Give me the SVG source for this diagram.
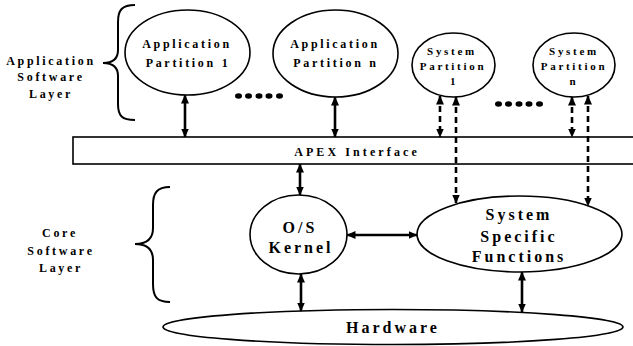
<svg xmlns="http://www.w3.org/2000/svg" width="633" height="346" viewBox="0 0 633 346">
<style>
  .shape { fill: #ffffff; stroke: #000000; stroke-width: 1.6; }
  .t { font-family: "Liberation Serif", "Times New Roman", serif; font-weight: bold; fill: #000000; text-anchor: middle; }
  .s11 { font-size: 11px; letter-spacing: 2.7px; }
  .s12 { font-size: 12px; letter-spacing: 2.7px; }
  .apx { font-size: 12px; letter-spacing: 3.1px; }
  .s16 { font-size: 16px; letter-spacing: 3px; }
  .conn { fill: none; stroke: #000000; stroke-width: 2.6; marker-start: url(#ah); marker-end: url(#ah); }
  .dash { stroke-dasharray: 6 4; }
  .brace { fill: none; stroke: #000000; stroke-width: 2; }
  .dot { fill: #000000; }
</style>
<defs>
  <marker id="ah" markerUnits="userSpaceOnUse" viewBox="0 0 9 8" refX="8.5" refY="4" markerWidth="9" markerHeight="8" orient="auto-start-reverse">
    <path d="M0,0 L9,4 L0,8 z" fill="#000000"/>
  </marker>
</defs>
<rect width="633" height="346" fill="#ffffff"/>

<g id="app-layer-label">
  <path class="brace" d="M135,5 C122,5 118,10 118,22 L118,50 C118,58 113,63 103,63 C113,63 118,68 118,76 L118,104 C118,116 122,120 135,120"/>
  <text class="t s12" x="51" y="65">Application</text>
  <text class="t s12" x="51" y="81">Software</text>
  <text class="t s12" x="51" y="98">Layer</text>
</g>

<g id="core-layer-label">
  <path class="brace" d="M170,187 C157,187 153,193 153,205 L153,228 C153,238 147,244 135,244 C147,244 153,250 153,260 L153,284 C153,297 157,302 170,302"/>
  <text class="t s12" x="60" y="237">Core</text>
  <text class="t s12" x="61" y="255">Software</text>
  <text class="t s12" x="61" y="272">Layer</text>
</g>

<g id="app-partition-1">
  <ellipse class="shape" cx="187.5" cy="52.5" rx="62.5" ry="42.5"/>
  <text class="t s12" x="187" y="48">Application</text>
  <text class="t s12" x="188" y="67">Partition 1</text>
</g>

<g id="app-partition-n">
  <ellipse class="shape" cx="335.5" cy="53.5" rx="62.5" ry="43.5"/>
  <text class="t s12" x="335" y="48">Application</text>
  <text class="t s12" x="336" y="67">Partition n</text>
</g>

<g id="system-partition-1">
  <ellipse class="shape" cx="453.5" cy="65" rx="41.5" ry="32"/>
  <text class="t s11" x="452" y="55">System</text>
  <text class="t s11" x="453" y="70">Partition</text>
  <text class="t s11" x="454" y="85">1</text>
</g>

<g id="system-partition-n">
  <ellipse class="shape" cx="574" cy="65" rx="41" ry="32"/>
  <text class="t s11" x="574" y="55">System</text>
  <text class="t s11" x="574" y="70">Partition</text>
  <text class="t s11" x="574" y="85">n</text>
</g>

<g id="ellipsis-dots">
  <ellipse class="dot" cx="238.5" cy="96" rx="3.5" ry="2.8"/>
  <ellipse class="dot" cx="248.5" cy="96" rx="3.5" ry="2.8"/>
  <ellipse class="dot" cx="259" cy="96" rx="3.5" ry="2.8"/>
  <ellipse class="dot" cx="269" cy="96" rx="3.5" ry="2.8"/>
  <ellipse class="dot" cx="279.5" cy="96" rx="3.5" ry="2.8"/>
  <ellipse class="dot" cx="498.5" cy="104" rx="3.5" ry="2.8"/>
  <ellipse class="dot" cx="508.5" cy="104" rx="3.5" ry="2.8"/>
  <ellipse class="dot" cx="519" cy="104" rx="3.5" ry="2.8"/>
  <ellipse class="dot" cx="529" cy="104" rx="3.5" ry="2.8"/>
  <ellipse class="dot" cx="539.5" cy="104" rx="3.5" ry="2.8"/>
</g>

<g id="apex-interface">
  <rect class="shape" x="73" y="137" width="575" height="27"/>
  <text class="t apx" x="357" y="156">APEX Interface</text>
</g>

<g id="os-kernel">
  <ellipse class="shape" cx="298.5" cy="234.5" rx="48.5" ry="39.5"/>
  <text class="t s16" x="300" y="233">O/S</text>
  <text class="t s16" x="301" y="253">Kernel</text>
</g>

<g id="system-specific-functions">
  <ellipse class="shape" cx="519.5" cy="234" rx="102.5" ry="38"/>
  <text class="t s16" x="519" y="220">System</text>
  <text class="t s16" x="519" y="242">Specific</text>
  <text class="t s16" x="519" y="262">Functions</text>
</g>

<g id="hardware">
  <ellipse class="shape" cx="393" cy="327" rx="230" ry="17.5"/>
  <text class="t s16" x="393" y="333">Hardware</text>
</g>

<g id="connectors">
  <line class="conn" x1="185" y1="95" x2="185" y2="137"/>
  <line class="conn" x1="335" y1="97" x2="335" y2="137"/>
  <line class="conn dash" x1="440" y1="96" x2="440" y2="137"/>
  <line class="conn dash" x1="456" y1="97" x2="456" y2="203"/>
  <line class="conn dash" x1="572" y1="97" x2="572" y2="137"/>
  <line class="conn dash" x1="588" y1="96" x2="588" y2="206"/>
  <line class="conn" x1="300" y1="164" x2="300" y2="195"/>
  <line class="conn" x1="347" y1="235" x2="417" y2="235"/>
  <line class="conn" x1="301" y1="274" x2="301" y2="311"/>
  <line class="conn" x1="522" y1="272" x2="522" y2="312"/>
</g>
</svg>
